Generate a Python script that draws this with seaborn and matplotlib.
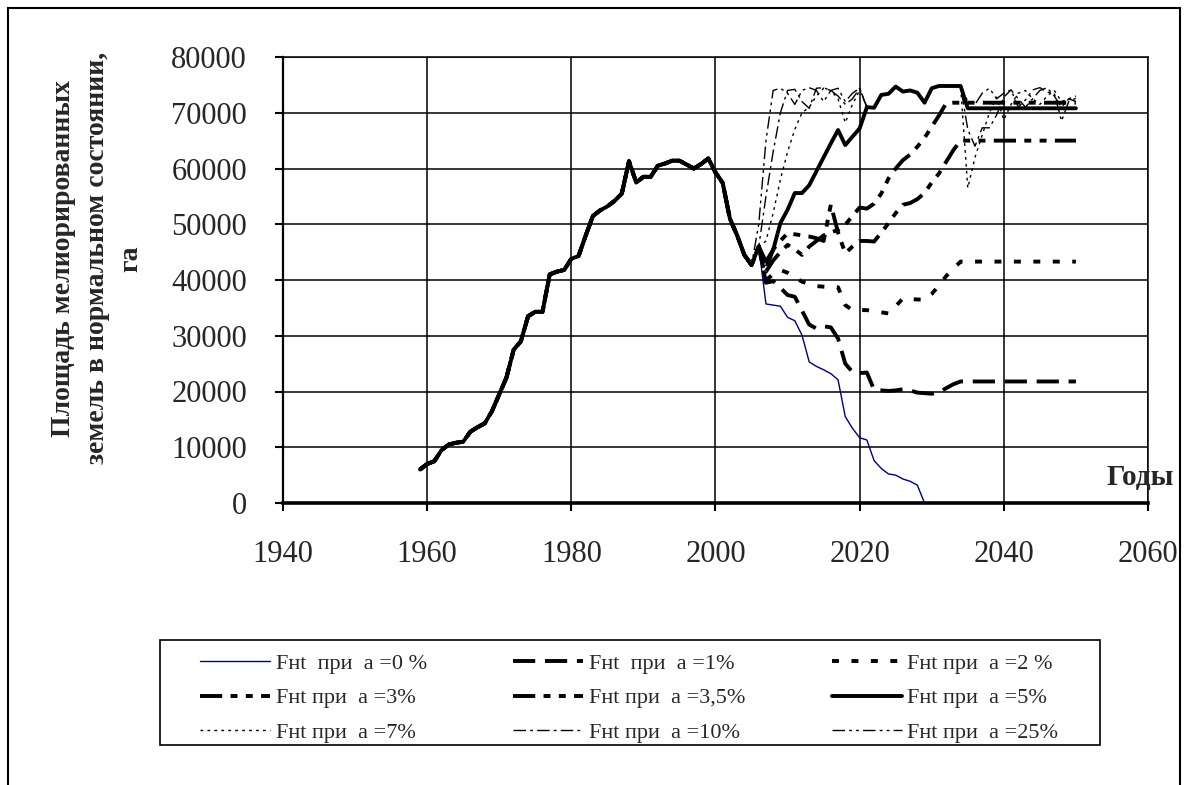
import pandas as pd
import matplotlib
matplotlib.use("Agg")
import matplotlib.pyplot as plt
import seaborn as sns
from matplotlib.patches import Rectangle

# common history 1959-2005
years_hist = list(range(1959, 2006))
area_hist = [6000, 7000, 7500, 9500, 10500, 10800, 11000, 12800, 13600, 14300,
             16500, 19500, 22500, 27500, 29000, 33500, 34300, 34300, 41000, 41500,
             41800, 43800, 44300, 48000, 51500, 52500, 53200, 54200, 55500, 61300,
             57500, 58500, 58500, 60500, 60900, 61400, 61400, 60700, 60000, 60800,
             61800, 59300, 57400, 51000, 48000, 44500, 42700]

# forecasts 2006-2050
years_proj = list(range(2006, 2051))
proj_0 = [46000, 35700, 35500, 35300, 33300, 32700, 30100, 25300, 24500, 23900,
          23200, 22100, 15500, 13400, 11700, 11300, 7600, 6200, 5200, 5000,
          4300, 3900, 3200, 0] + [0] * 21
proj_1 = [46000, 39500, 39800, 38600, 37300, 37000, 34500, 32000, 31300, 31700,
          31500, 29500, 25000, 23500, 23300, 23400, 20300, 20200, 20100, 20200,
          20400, 20200, 19800, 19700, 19600, 19800, 20600, 21300, 21800] + [21800] * 16
proj_2 = [46000, 40000, 41000, 41800, 41300, 40500, 39700, 39300, 38900, 38800,
          38700, 38700, 35500, 34600, 34600, 34600, 34400, 34200, 34000, 35300,
          36700, 36600, 36500, 36500, 37500, 39000, 40700, 42000, 43300] + [43300] * 16
proj_3 = [46000, 42000, 45500, 47000, 48400, 48200, 48000, 47800, 47500, 47000,
          53500, 48500, 44800, 46000, 47000, 47000, 46900, 48500, 50200, 52000,
          53500, 53800, 54500, 55600, 57500, 59100, 61200, 63300, 65000] + [65000] * 16
proj_35 = [46000, 41500, 43500, 45000, 46300, 45500, 44500, 46000, 47000, 48000,
           48500, 49000, 49900, 51500, 53000, 52800, 53700, 55500, 58200, 60000,
           61500, 62500, 63900, 65500, 67500, 69500, 71700] + [71800] * 18
proj_5 = [46000, 43300, 45400, 50200, 52600, 55600, 55600, 57000, 59500, 62000,
          64500, 66900, 64200, 65700, 67200, 71000, 70900, 73200, 73400, 74700,
          73800, 74000, 73600, 71800, 74400, 74800, 74800, 74800, 74800] + [70800] * 16
saturated = [71000, 70900, 73200, 73400, 74700, 73800, 74000, 73600, 71800,
             74400, 74800, 74800, 74800, 74800]
proj_7 = ([46000, 47000, 52000, 58000, 63000, 67000, 70000, 71000, 73000, 74400,
           74000, 72500, 68200, 71500, 74000] + saturated +
          [56500, 62000, 66000, 70000, 72800, 68700, 71500, 73500, 74000, 72500,
           71500, 73000, 74000, 72000, 72500, 73000])
proj_10 = ([46000, 55000, 63000, 70000, 74000, 74200, 72000, 70800, 74400, 74500,
            74000, 73000, 71500, 72500, 74400] + saturated +
           [67000, 64000, 67300, 67300, 69600, 72800, 74100, 72500, 71000, 72500,
            74000, 74500, 73000, 71000, 72500, 72000])
proj_25 = ([50000, 65000, 74000, 74400, 73500, 71500, 74000, 74500, 74000, 72000,
            74000, 74400, 72000, 73500, 74400] + saturated +
           [72000, 71500, 73500, 74400, 72500, 73500, 74100, 71000, 72300, 74100,
            74500, 73700, 73500, 68500, 72000, 72600])

labels = ["Fнt  при  а =0 %", "Fнt  при  а =1%", "Fнt при  а =2 %",
          "Fнt при  а =3%", "Fнt при  а =3,5%", "Fнt при  а =5%",
          "Fнt при  а =7%", "Fнt при  а =10%", "Fнt при  а =25%"]
projections = [proj_0, proj_1, proj_2, proj_3, proj_35, proj_5, proj_7, proj_10, proj_25]

styles = [
    dict(color="#000080", lw=1.0, ls="-"),
    dict(color="black", lw=2.8, ls=(0, (16, 7))),
    dict(color="black", lw=2.8, ls=(0, (5, 9))),
    dict(color="black", lw=2.8, ls=(0, (16, 6, 5, 6, 5, 6))),
    dict(color="black", lw=2.8, ls=(0, (16, 6, 5, 6, 5, 6))),
    dict(color="black", lw=2.8, ls="-"),
    dict(color="black", lw=1.0, ls=(0, (2, 3))),
    dict(color="black", lw=1.0, ls=(0, (9, 3, 2, 3))),
    dict(color="black", lw=1.0, ls=(0, (9, 3, 2, 3, 2, 3))),
]

sns.set_style("white")
plt.rcParams["font.family"] = ["Liberation Serif", "DejaVu Serif"]
plt.rcParams["lines.scale_dashes"] = False

fig = plt.figure(figsize=(11.89, 7.85), dpi=100)
ax = fig.add_axes([283 / 1189, 1 - 503 / 785, (1148 - 283) / 1189, (503 - 57) / 785])

handles = []
for lab, proj, st in zip(labels, projections, styles):
    df = pd.DataFrame({"year": years_hist + years_proj, "area": area_hist + proj})
    sns.lineplot(data=df, x="year", y="area", ax=ax, color=st["color"],
                 linewidth=st["lw"], linestyle=st["ls"], label=lab, legend=False)
    handles.append(ax.lines[-1])

ax.set_xlim(1940, 2060)
ax.set_ylim(0, 80000)
ax.set_xticks(range(1940, 2061, 20))
ax.set_yticks(range(0, 80001, 10000))
ax.grid(True, color="black", linewidth=1.1)
ax.set_axisbelow(True)
ax.set_xlabel("")
ax.set_ylabel("")
for side in ["top", "right"]:
    ax.spines[side].set_linewidth(1.1)
    ax.spines[side].set_color("black")
ax.spines["left"].set_linewidth(1.6)
ax.spines["bottom"].set_linewidth(2.6)
ax.spines["left"].set_color("black")
ax.spines["bottom"].set_color("black")
ax.tick_params(axis="both", which="major", labelsize=22, direction="out",
               length=6, width=1.5, color="black", left=True, bottom=True)
ax.tick_params(axis="y", pad=20)
ax.tick_params(axis="x", pad=21)

ax.text(2054.2, 4500, "Годы", ha="left", va="center",
        fontsize=21, fontweight="bold", clip_on=False)

fig.text(0.0816, 0.671,
         "Площадь мелиорированных\nземель в нормальном состоянии,\nга",
         rotation=90, ha="center", va="center", fontsize=20, fontweight="bold",
         multialignment="center", linespacing=1.45)

# legend filled row by row like the original, own frame drawn below
order = [0, 3, 6, 1, 4, 7, 2, 5, 8]
leg = fig.legend([handles[i] for i in order], [labels[i] for i in order],
                 ncol=3, loc="upper left",
                 bbox_to_anchor=(200 / 1189, 1 - 653 / 785),
                 fontsize=16, frameon=False, handlelength=3.15,
                 handletextpad=0.25, columnspacing=3.9,
                 labelspacing=0.64, borderpad=0, borderaxespad=0)

fig.add_artist(Rectangle((160 / 1189, 1 - 745 / 785), 940 / 1189, 105 / 785,
                         transform=fig.transFigure, fill=False,
                         edgecolor="black", linewidth=1.2))
fig.add_artist(Rectangle((8 / 1189, -0.1), (1180 - 8) / 1189, 1.1 - 8 / 785,
                         transform=fig.transFigure, fill=False,
                         edgecolor="black", linewidth=1.5))

fig.savefig("out.png", dpi=100)
